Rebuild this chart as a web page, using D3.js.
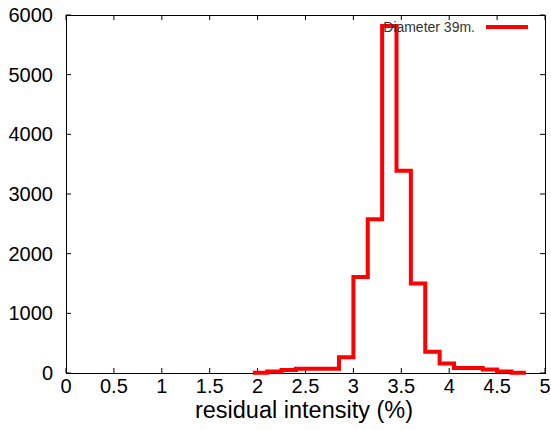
<!DOCTYPE html>
<html>
<head>
<meta charset="utf-8">
<script src="https://cdn.jsdelivr.net/npm/d3@7"></script>
<style>
  body { margin: 0; background: #fff; }
  svg text { font-family: "Liberation Sans", Arial, sans-serif; }
</style>
</head>
<body>
<div class="chart"></div>
<script>
// histogram bin left edges (residual intensity, %) and counts
var binStart = [1.95, 2.10, 2.25, 2.40, 2.55, 2.70, 2.85, 3.00, 3.15, 3.30,
                3.45, 3.60, 3.75, 3.90, 4.05, 4.20, 4.35, 4.50, 4.65];
var binWidth = 0.15;
var counts = [5, 25, 50, 70, 70, 70, 265, 1610, 2575, 5815,
              3390, 1500, 355, 160, 85, 85, 60, 25, 5];
var xTicks = [0, 0.5, 1, 1.5, 2, 2.5, 3, 3.5, 4, 4.5, 5];
var yTicks = [0, 1000, 2000, 3000, 4000, 5000, 6000];
var seriesName = "Diameter 39m.";

var W = 551, H = 430;
var margin = {top: 15, right: 6, bottom: 57, left: 66};
var width = W - margin.left - margin.right,
    height = H - margin.top - margin.bottom;

var svg = d3.select(".chart").append("svg")
  .attr("width", W)
  .attr("height", H);
var g = svg.append("g")
  .attr("transform", "translate(" + margin.left + "," + margin.top + ")");

var x = d3.scaleLinear().domain([0, 5]).range([0, width]);
var y = d3.scaleLinear().domain([0, 6000]).range([height, 0]);

// tick marks (inside, mirrored like gnuplot)
var tickLen = 5;
xTicks.forEach(function(t) {
  g.append("line").attr("x1", x(t)).attr("x2", x(t))
    .attr("y1", height).attr("y2", height - tickLen)
    .attr("stroke", "#000").attr("stroke-width", 1);
  g.append("line").attr("x1", x(t)).attr("x2", x(t))
    .attr("y1", 0).attr("y2", tickLen)
    .attr("stroke", "#000").attr("stroke-width", 1);
  g.append("text")
    .attr("x", x(t)).attr("y", height + 20)
    .attr("text-anchor", "middle")
    .attr("font-size", 20)
    .attr("fill", "#000")
    .text(t);
});
yTicks.forEach(function(t) {
  g.append("line").attr("x1", 0).attr("x2", tickLen)
    .attr("y1", y(t)).attr("y2", y(t))
    .attr("stroke", "#000").attr("stroke-width", 1);
  g.append("line").attr("x1", width).attr("x2", width - tickLen)
    .attr("y1", y(t)).attr("y2", y(t))
    .attr("stroke", "#000").attr("stroke-width", 1);
  g.append("text")
    .attr("x", -13).attr("y", y(t) + 7)
    .attr("text-anchor", "end")
    .attr("font-size", 20)
    .attr("fill", "#000")
    .text(t);
});

// frame
g.append("rect")
  .attr("x", 0.5).attr("y", 0.5)
  .attr("width", width).attr("height", height)
  .attr("fill", "none")
  .attr("stroke", "#000")
  .attr("stroke-width", 1);

// step outline
var pts = binStart.map(function(s, i) { return [s, counts[i]]; });
pts.push([binStart[binStart.length - 1] + binWidth, counts[counts.length - 1]]);

var line = d3.line()
  .curve(d3.curveStepAfter)
  .x(function(d) { return x(d[0]); })
  .y(function(d) { return y(d[1]); });

g.append("path")
  .datum(pts)
  .attr("fill", "none")
  .attr("stroke", "#ff0000")
  .attr("stroke-width", 4)
  .attr("stroke-linejoin", "miter")
  .attr("d", line);

// legend
var legend = g.append("g").attr("class", "legend");
legend.append("line")
  .attr("x1", width - 59).attr("x2", width - 17)
  .attr("y1", 12).attr("y2", 12)
  .attr("stroke", "#ff0000")
  .attr("stroke-width", 4);
legend.append("text")
  .attr("x", width - 70).attr("y", 17)
  .attr("text-anchor", "end")
  .attr("font-size", 14)
  .attr("fill", "#333")
  .text(seriesName);

// axis title
svg.append("text")
  .attr("x", 304).attr("y", 418)
  .attr("text-anchor", "middle")
  .attr("font-size", 23.5)
  .attr("fill", "#000")
  .text("residual intensity (%)");
</script>
</body>
</html>
